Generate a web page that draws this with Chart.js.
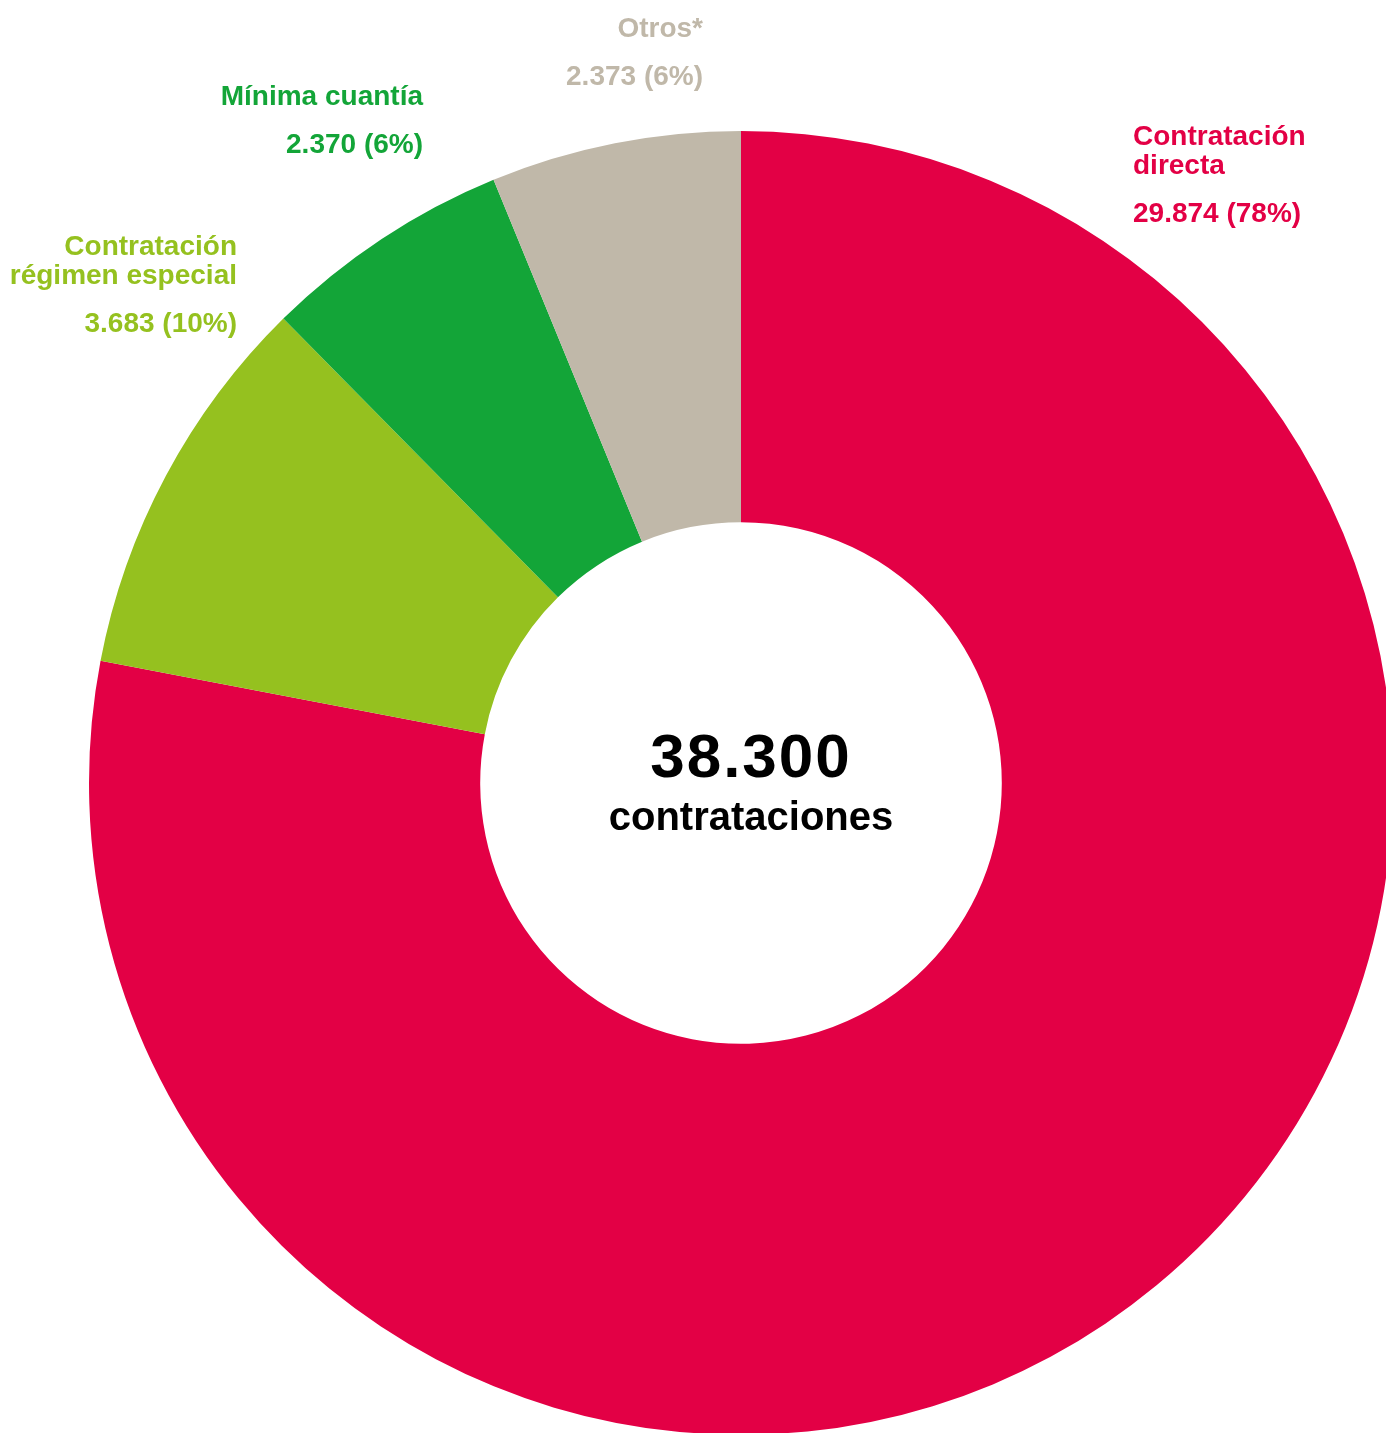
<!DOCTYPE html>
<html>
<head>
<meta charset="utf-8">
<script src="https://cdn.jsdelivr.net/npm/chart.js@4"></script>
<style>
  html, body { margin: 0; padding: 0; background: #fff; overflow: hidden; }
  #wrap { position: absolute; left: 0; top: 0; width: 1400px; height: 1440px; }
</style>
</head>
<body>
<div id="wrap"><canvas id="chart" width="1400" height="1440"></canvas></div>
<script>
// Contract types, clockwise from 12 o'clock
const categories = ['Contratación directa', 'Contratación régimen especial', 'Mínima cuantía', 'Otros*'];
const labelLines = [['Contratación', 'directa'], ['Contratación', 'régimen especial'], ['Mínima cuantía'], ['Otros*']];
const values = [29874, 3683, 2370, 2373];
const colors = ['#E30045', '#95C11F', '#13A538', '#C0B8A9'];
const centerCaption = 'contrataciones';

// label anchors (x of the aligned edge, baseline of first line)
const labelLayout = [
  { x: 1133, y: 145, align: 'left' },
  { x: 237, y: 255, align: 'right' },
  { x: 423, y: 105, align: 'right' },
  { x: 703, y: 37, align: 'right' }
];

const total = values.reduce((a, b) => a + b, 0);
const fmt = n => String(n).replace(/\B(?=(\d{3})+(?!\d))/g, '.');

const labelsPlugin = {
  id: 'labels',
  afterDraw(chart) {
    const ctx = chart.ctx;
    ctx.save();
    ctx.textBaseline = 'alphabetic';
    ctx.font = 'bold 28px "Liberation Sans", Arial, sans-serif';
    values.forEach((v, i) => {
      const pos = labelLayout[i];
      ctx.fillStyle = colors[i];
      ctx.textAlign = pos.align;
      let y = pos.y;
      labelLines[i].forEach((line, j) => {
        ctx.fillText(line, pos.x, y);
        y += 29;
      });
      y += 19;
      const pct = Math.round(v / total * 100);
      ctx.fillText(fmt(v) + ' (' + pct + '%)', pos.x, y - 29 + 29);
    });

    // total in the hole
    const arc = chart.getDatasetMeta(0).data[0];
    const cx = arc.x, cy = arc.y;
    ctx.fillStyle = '#000';
    ctx.textAlign = 'center';
    ctx.font = 'bold 62px "Liberation Sans", Arial, sans-serif';
    ctx.letterSpacing = '2px';
    ctx.fillText(fmt(total), cx + 10, cy - 6);
    ctx.letterSpacing = '0px';
    ctx.font = 'bold 40px "Liberation Sans", Arial, sans-serif';
    ctx.fillText(centerCaption, cx + 10, cy + 47);
    ctx.restore();
  }
};

new Chart(document.getElementById('chart'), {
  type: 'doughnut',
  data: {
    labels: categories,
    datasets: [{
      data: values,
      backgroundColor: colors,
      borderWidth: 0
    }]
  },
  options: {
    responsive: false,
    animation: false,
    cutout: '40%',
    layout: { padding: { left: 89, top: 131, right: 7, bottom: 5 } },
    plugins: {
      legend: { display: false },
      tooltip: { enabled: false }
    }
  },
  plugins: [labelsPlugin]
});
</script>
</body>
</html>
